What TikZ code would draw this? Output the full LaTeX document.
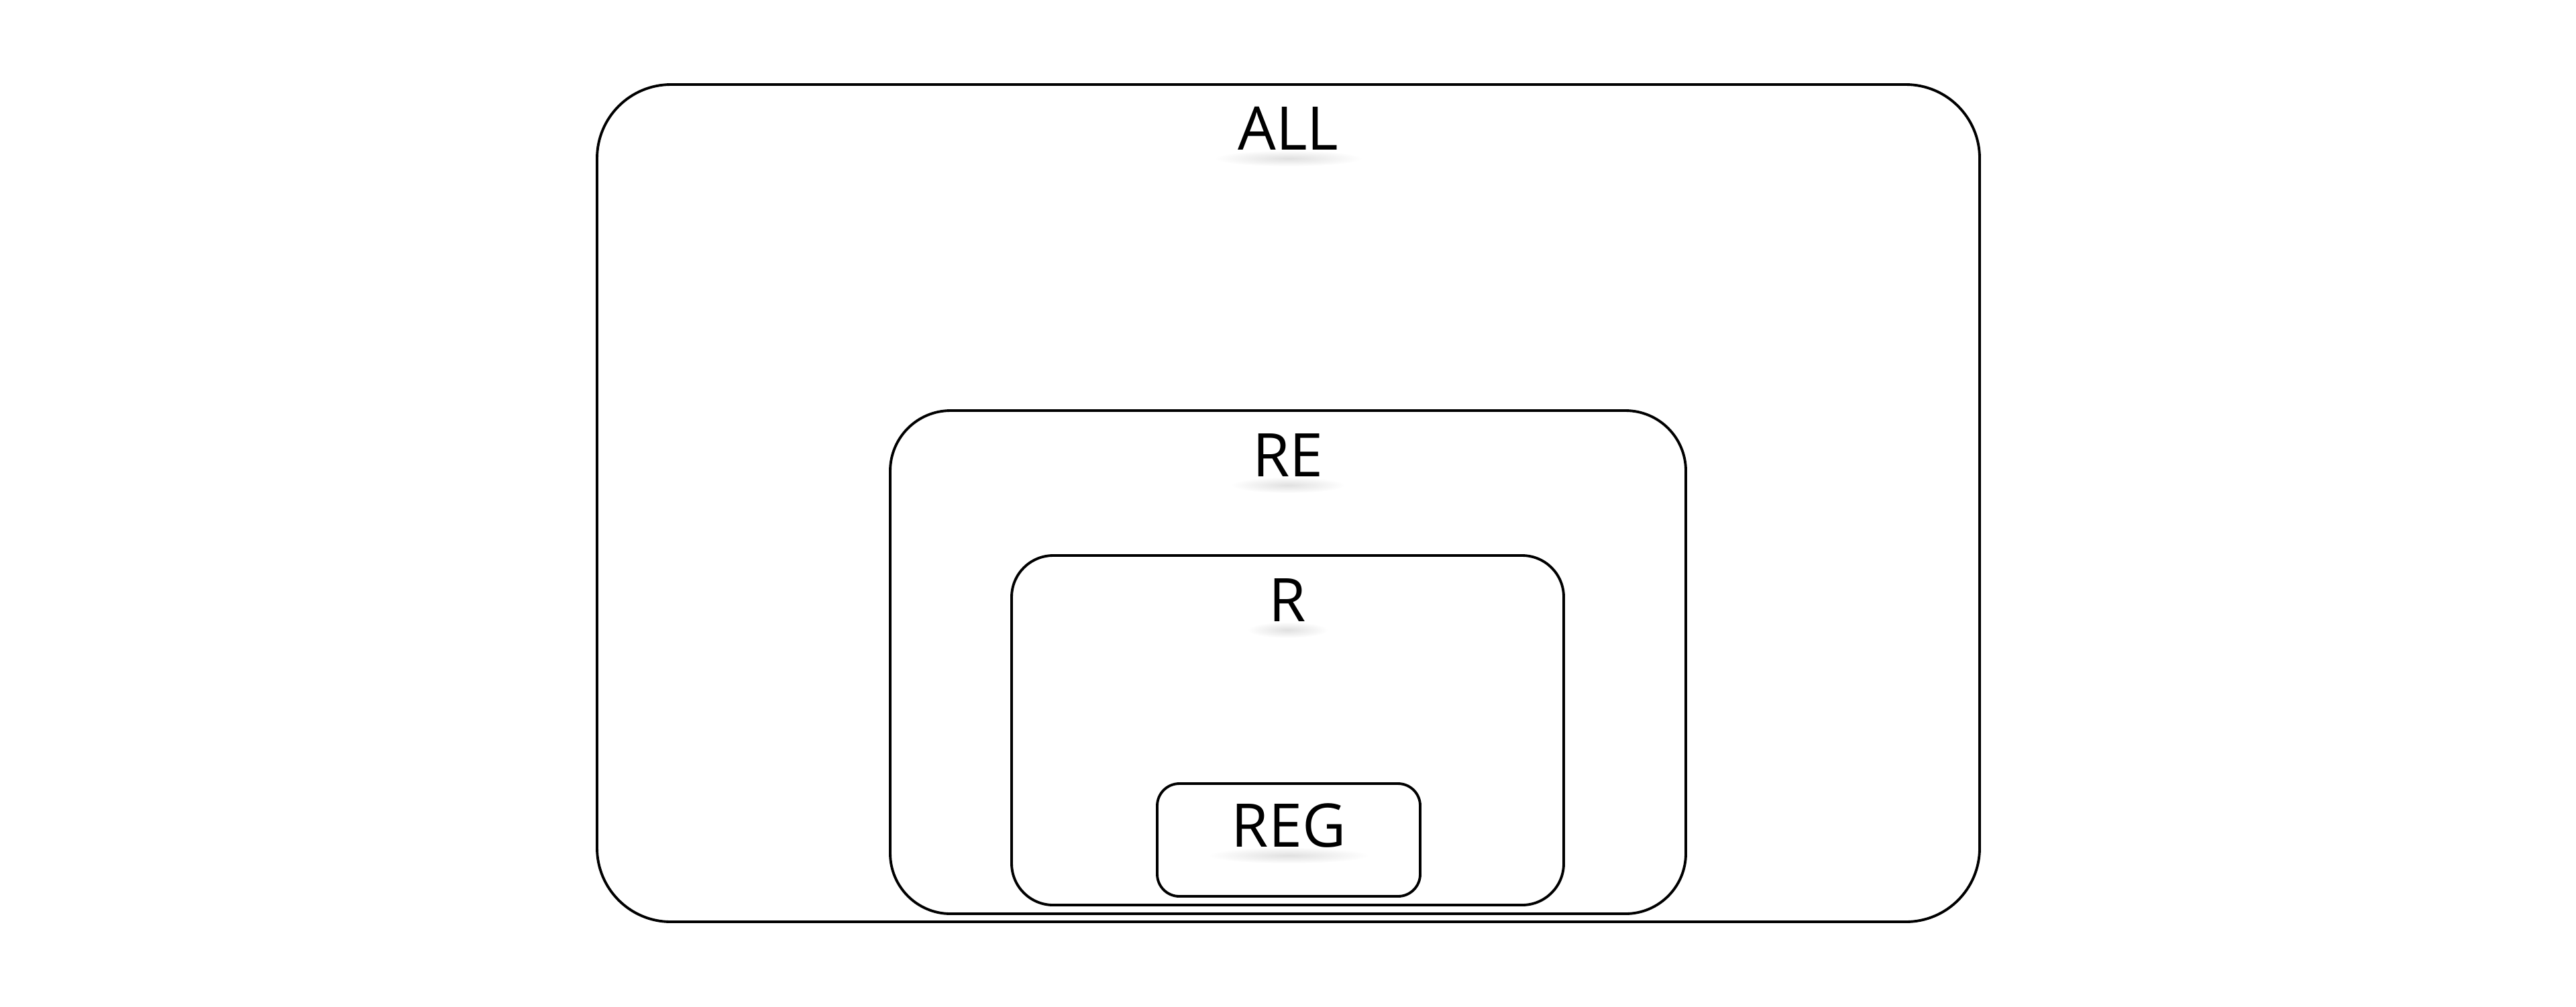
\documentclass[tikz,border=0pt]{standalone}
\usepackage{fontspec}
\setmainfont{Open Sans}
\usetikzlibrary{positioning, calc, fadings}

\tikzfading[name=softglow, inner color=transparent!0, outer color=transparent!100]

\tikzset{
  setbox/.style={draw, line width=1.1pt, inner sep=0pt, outer sep=0pt},
  setlabel/.style={inner sep=0pt, font=\fontsize{25.5}{28}\selectfont},
  labelshadow/.style={black, opacity=0.12, path fading=softglow},
}

\begin{document}
\begin{tikzpicture}
  \useasboundingbox (0,0) rectangle (38.4,-15);

  % === NESTED SETS ===
  \node[setbox, minimum width=20.61cm, minimum height=12.48cm, rounded corners=1.1cm] (all) at (19.205,-7.50) {};
  \node[setbox, minimum width=11.86cm, minimum height=7.50cm, rounded corners=0.9cm] (re) at (19.20,-9.87) {};
  \node[setbox, minimum width=8.23cm, minimum height=5.21cm, rounded corners=0.62cm] (r) at (19.195,-10.885) {};
  \node[setbox, minimum width=3.92cm, minimum height=1.68cm, rounded corners=0.33cm] (reg) at (19.21,-12.52) {};

  % labels
  \node[setlabel] (alllbl) at ($(all.north)+(0,-0.65)$) {ALL};
  \node[setlabel] (relbl) at ($(re.north)+(0,-0.66)$) {RE};
  \node[setlabel] (rlbl) at ($(r.north)+(0,-0.66)$) {R};
  \node[setlabel] (reglbl) at ($(reg.north)+(0,-0.62)$) {REG};

  % text shadows
  \fill[labelshadow] ([yshift=-0.45cm]alllbl.center) ellipse (1.1cm and 0.12cm);
  \fill[labelshadow] ([yshift=-0.45cm]relbl.center) ellipse (0.85cm and 0.12cm);
  \fill[labelshadow] ([yshift=-0.45cm]rlbl.center) ellipse (0.6cm and 0.12cm);
  \fill[labelshadow] ([yshift=-0.45cm]reglbl.center) ellipse (1.2cm and 0.12cm);
\end{tikzpicture}
\end{document}
